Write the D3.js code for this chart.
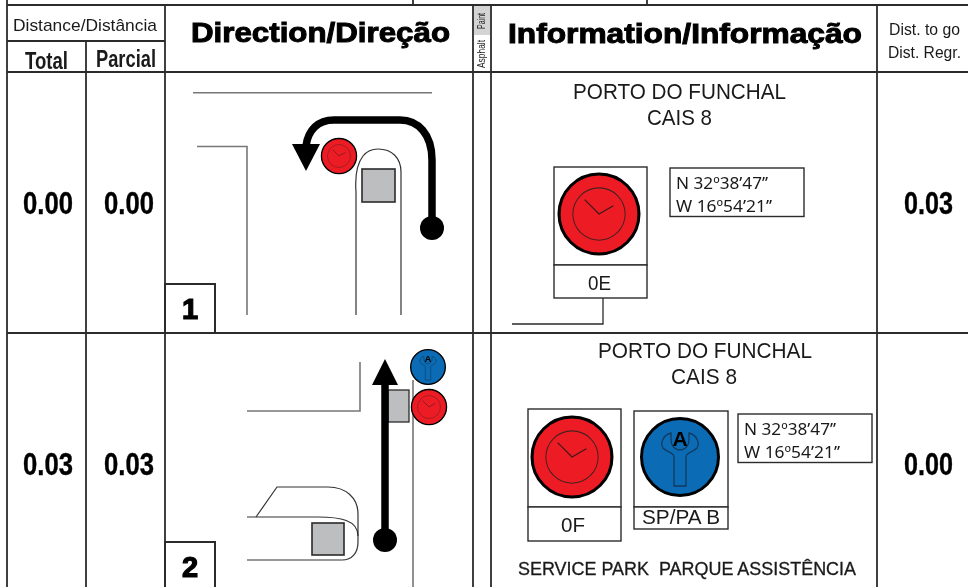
<!DOCTYPE html>
<html>
<head>
<meta charset="utf-8">
<script src="https://cdn.jsdelivr.net/npm/d3@7/dist/d3.min.js"></script>
<style>
  html, body { margin: 0; padding: 0; background: #fff; }
  svg { display: block; filter: blur(0.35px); }
  text { white-space: pre; }
</style>
</head>
<body>
<div id="chart"></div>
<script>
// road book page
const rowNumbers = ["1", "2"];
const totals = ["0.00", "0.03"];
const partials = ["0.00", "0.03"];
const toGo = ["0.03", "0.00"];
const placeNames = ["PORTO DO FUNCHAL", "PORTO DO FUNCHAL"];
const placeSubs = ["CAIS 8", "CAIS 8"];
const latitudes = ["N 32º38’47’’", "N 32º38’47’’"];
const longitudes = ["W 16º54’21’’", "W 16º54’21’’"];
const serviceNote = "SERVICE PARK  PARQUE ASSISTÊNCIA";
const timeControls = ["0E", "0F"];
const serviceLabel = "SP/PA B";

const width = 968, height = 587;
const RED = "#ed1c24", BLUE = "#0b6cb5", GREY = "#bcbec0", INK = "#2b2b2b";
const SANS = "'Liberation Sans', Arial, sans-serif";
const HUMAN = "'Noto Sans', sans-serif";

const svg = d3.select("#chart").append("svg")
    .attr("width", width)
    .attr("height", height)
    .attr("viewBox", `0 0 ${width} ${height}`);

function line(g, d, w, color) {
    return g.append("path")
        .attr("d", d)
        .attr("fill", "none")
        .attr("stroke", color || INK)
        .attr("stroke-width", w || 1);
}

function box(g, x, y, w, h, fill, sw, color) {
    return g.append("rect")
        .attr("x", x).attr("y", y)
        .attr("width", w).attr("height", h)
        .attr("fill", fill || "#fff")
        .attr("stroke", color || INK)
        .attr("stroke-width", sw || 1);
}

function text(g, str, x, y, size, opts) {
    opts = opts || {};
    const t = g.append("text")
        .attr("x", x).attr("y", y)
        .attr("font-family", opts.family || SANS)
        .attr("font-size", size)
        .attr("font-weight", opts.weight || "normal")
        .attr("fill", opts.fill || "#1a1a1a")
        .attr("text-anchor", opts.anchor || "start")
        .text(str);
    if (opts.len) t.attr("textLength", opts.len).attr("lengthAdjust", "spacingAndGlyphs");
    if (opts.heavy) t.attr("stroke", opts.fill || "#1a1a1a").attr("stroke-width", opts.heavy);
    return t;
}

// icons are drawn for radius 40 and scaled down for the small ones
function clockIcon(g, cx, cy, r) {
    const k = r / 40;
    const ic = g.append("g").attr("transform", `translate(${cx},${cy}) scale(${k})`);
    ic.append("circle").attr("r", 39).attr("fill", RED).attr("stroke", "#000").attr("stroke-width", 3);
    ic.append("circle").attr("r", 25.5).attr("fill", "none").attr("stroke", "#4a2020").attr("stroke-width", 1);
    line(ic, "M-14,-14 L0,0 L14,-8", 1.2, "#3a1a1a");
}

function wrenchIcon(g, cx, cy, r) {
    const k = r / 40;
    const ic = g.append("g").attr("transform", `translate(${cx},${cy}) scale(${k})`);
    ic.append("circle").attr("r", 38.5).attr("fill", BLUE).attr("stroke", "#000").attr("stroke-width", 3);
    ic.append("path")
        .attr("d", "M-9,-24 C-17,-22 -20,-14 -17,-9 C-14,-5 -6,-5 -6,0 V29 H6 V0 C6,-5 14,-5 17,-9 C20,-14 17,-22 9,-24 L9,-17 C9,-11 5,-7 0,-7 C-5,-7 -9,-11 -9,-17 Z")
        .attr("fill", BLUE)
        .attr("stroke", "#123a5e")
        .attr("stroke-width", 1.3);
    text(ic, "A", 0, -11, 21, {weight: "bold", anchor: "middle", fill: "#000"});
}

function grid() {
    const g = svg.append("g");
    // pavement column
    g.append("rect").attr("x", 474).attr("y", 6).attr("width", 16).attr("height", 29).attr("fill", "#d4d4d4");
    // verticals
    [[7, 0, 587], [86, 41, 587], [165, 5, 587], [473, 5, 587], [491, 5, 587], [877, 5, 587], [413, 0, 5], [647, 0, 5]]
        .forEach(d => line(g, `M${d[0]},${d[1]} V${d[2]}`, 1.8));
    // horizontals
    line(g, `M7,5 H${width}`, 1.8);
    line(g, `M7,72 H${width}`, 1.8);
    line(g, "M7,41 H165", 1.8);
    line(g, `M7,333 H${width}`, 1.8);
}

function header() {
    const g = svg.append("g");
    text(g, "Distance/Distância", 13, 31, 17, {len: 144});
    text(g, "Total", 25, 69, 23, {weight: "bold", len: 43});
    text(g, "Parcial", 96, 67, 23, {weight: "bold", len: 60});
    text(g, "Direction/Direção", 191, 42, 28, {weight: "bold", fill: "#000", len: 259, heavy: 1});
    text(g, "Information/Informação", 508, 43, 28, {weight: "bold", fill: "#000", len: 354, heavy: 1});
    text(g, "Dist. to go", 889, 35, 17, {len: 71});
    text(g, "Dist. Regr.", 888, 58, 17, {len: 73});
    text(g, "Paint", 0, 0, 10, {anchor: "middle", len: 16}).attr("transform", "translate(485,21) rotate(-90)");
    text(g, "Asphalt", 0, 0, 10, {anchor: "middle", len: 28}).attr("transform", "translate(485,54) rotate(-90)");
}

const rowY = d3.scaleOrdinal().domain(rowNumbers).range([333, 595]);
const numberBoxY = [284, 542];

function rows() {
    const sel = svg.selectAll("g.row")
        .data(rowNumbers)
        .enter().append("g").attr("class", "row");
    sel.each(function (n, i) {
        const g = d3.select(this);
        const base = i === 0 ? 214 : 475;
        text(g, totals[i], 23, base, 31, {weight: "bold", len: 50, heavy: 0.4, fill: "#000"});
        text(g, partials[i], 104, base, 31, {weight: "bold", len: 50, heavy: 0.4, fill: "#000"});
        text(g, toGo[i], 904, base, 31, {weight: "bold", len: 49, heavy: 0.4, fill: "#000"});
        box(g, 165, numberBoxY[i], 50, rowY(n) - numberBoxY[i], "#fff", 2);
        text(g, n, 190, numberBoxY[i] + 35, 29, {weight: "bold", fill: "#000", anchor: "middle", heavy: 1.2});
    });
}

function infoCoords(g, i, x, y) {
    box(g, x, y, 134, 48.5, "#fff", 1.4);
    text(g, latitudes[i], x + 6, y + 20.5, 16, {family: HUMAN, len: 92});
    text(g, longitudes[i], x + 6, y + 43.5, 16, {family: HUMAN, len: 96});
}

function firstRow() {
    const g = svg.append("g");
    // direction sketch
    line(g, "M193,92.7 H432", 1.6, "#777");
    line(g, "M197,146.5 H247 V315", 1.6, "#777");
    line(g, "M356,315 V192 C355,178 356,165 363,156 C367,151 372,149 378,149 C392,149 401,158 401,172 V315", 1.2, "#333");
    box(g, 362, 169, 33, 33, GREY, 1.6);
    line(g, "M432,228 V160 C432,134 418,120 400,120 H334 C318,120 308,130 306,146", 7.5, "#000");
    g.append("path").attr("d", "M292,144 L320,144 L306,171 Z").attr("fill", "#000");
    g.append("circle").attr("cx", 432).attr("cy", 228).attr("r", 12).attr("fill", "#000");
    clockIcon(g, 339, 156, 18);

    // information
    text(g, placeNames[0], 573, 99, 22.5, {len: 213});
    text(g, placeSubs[0], 647, 125, 22.5, {len: 65});
    box(g, 554, 167, 93, 98, "#fff", 1.4);
    box(g, 554, 265, 93, 33, "#fff", 1.4);
    clockIcon(g, 599, 214, 41);
    text(g, timeControls[0], 588, 290, 20, {len: 23});
    line(g, "M603,298 V324 H512", 1.3);
    infoCoords(g, 0, 670, 168);
}

function secondRow() {
    const g = svg.append("g");
    line(g, "M247,411 H360 V362", 1.6, "#777");
    line(g, "M413,380 V587", 1.3, "#555");
    // pier
    line(g, "M247,517 H318 C340,517 358,520 358,536", 1.2, "#333");
    line(g, "M256,517 L277,487 H328 C346,487 358,498 358,514 V542 C358,553 352,560 342,560 H247", 1.2, "#333");
    box(g, 312, 523, 32, 32, GREY, 1.6);
    box(g, 388, 390, 21, 32, GREY, 1.3);
    line(g, "M385,540 V383", 7.5, "#000");
    g.append("path").attr("d", "M372,385 L398,385 L385,359 Z").attr("fill", "#000");
    g.append("circle").attr("cx", 385).attr("cy", 540).attr("r", 12).attr("fill", "#000");
    wrenchIcon(g, 428, 367, 18);
    clockIcon(g, 429, 407, 18);

    text(g, placeNames[1], 598, 358, 22.5, {len: 214});
    text(g, placeSubs[1], 671, 384, 22.5, {len: 66});
    box(g, 528, 409, 93, 98, "#fff", 1.4);
    box(g, 528, 507, 93, 34, "#fff", 1.4);
    clockIcon(g, 572, 457, 41);
    text(g, timeControls[1], 561, 532, 20, {len: 24});
    box(g, 634, 411, 94, 96, "#fff", 1.4);
    box(g, 634, 507, 94, 22, "#fff", 1.4);
    wrenchIcon(g, 680, 457, 40);
    text(g, serviceLabel, 642, 524, 19.5, {len: 78});
    infoCoords(g, 1, 738, 414);
    text(g, serviceNote, 518, 575, 17.5, {len: 338, heavy: 0.3});
}

grid();
header();
firstRow();
secondRow();
rows();
</script>
</body>
</html>
